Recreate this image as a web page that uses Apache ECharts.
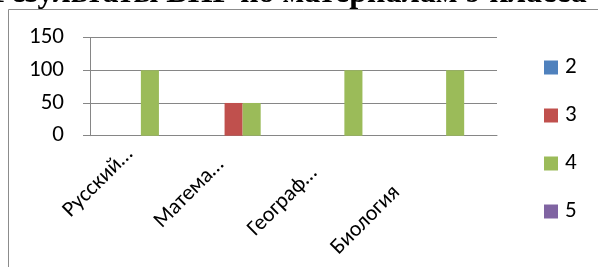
<!DOCTYPE html>
<html>
<head>
<meta charset="utf-8">
<script src="https://cdn.jsdelivr.net/npm/echarts@6/dist/echarts.min.js"></script>
<style>
  html, body { margin: 0; padding: 0; background: #fff; }
  #main { width: 598px; height: 267px; }
</style>
</head>
<body>
<div id="main"></div>
<script>
const titleText = 'Результаты ВПР по материалам 9 класса'
const subjects = ['Русский язык', 'Математика', 'География', 'Биология']
const subjectLabels = ['Русский…', 'Матема…', 'Географ…', 'Биология']
const grades = ['2', '3', '4', '5']
const grade2 = [0, 0, 0, 0]
const grade3 = [0, 50, 0, 0]
const grade4 = [100, 50, 100, 100]
const grade5 = [0, 0, 0, 0]
const yTicks = { min: 0, max: 150, step: 50 }

// Excel squeezes the rotated labels to the left; nudge each one
const labelPads = [[0, 16, 0, 0], [0, 31, 0, 0], [0, 43, 0, 0], [6, 70, 0, 0]]

const font = "Carlito, 'Liberation Sans', sans-serif"
const gridColor = '#868686'

const myChart = echarts.init(document.getElementById('main'))

const values = [grade2, grade3, grade4, grade5]
const option = {
  animation: false,
  color: ['#4F81BD', '#C0504D', '#9BBB59', '#8064A2'],
  textStyle: { fontFamily: font },
  graphic: [
    {
      type: 'rect',
      shape: { x: 8.5, y: 9.5, width: 700, height: 400 },
      style: { fill: 'none', stroke: '#8c8c8c', lineWidth: 1 }
    },
    {
      type: 'text',
      x: -8,
      y: 10,
      style: {
        text: titleText,
        font: "bold 32px 'Liberation Serif', serif",
        fill: '#000',
        verticalAlign: 'bottom'
      }
    }
  ],
  legend: {
    orient: 'vertical',
    left: 539,
    top: 51,
    itemWidth: 14,
    itemHeight: 14,
    itemGap: 25,
    icon: 'rect',
    data: grades,
    textStyle: { fontFamily: font, fontSize: 23, color: '#000', lineHeight: 23, padding: [0, 0, 0, 2] }
  },
  grid: { left: 90, top: 37.5, width: 407, height: 98.2 },
  xAxis: {
    type: 'category',
    data: subjects.map((s, i) => ({ value: s, textStyle: { padding: labelPads[i] } })),
    axisLine: { lineStyle: { color: gridColor, width: 1 } },
    axisTick: { length: 7, lineStyle: { color: gridColor } },
    axisLabel: {
      rotate: 45,
      margin: 4,
      interval: 0,
      fontSize: 22,
      color: '#000',
      fontFamily: font,
      formatter: (v, i) => subjectLabels[i]
    }
  },
  yAxis: {
    type: 'value',
    min: yTicks.min,
    max: yTicks.max,
    interval: yTicks.step,
    axisLine: { show: true, lineStyle: { color: gridColor } },
    axisTick: { show: true, length: 7, lineStyle: { color: gridColor } },
    splitLine: { lineStyle: { color: gridColor } },
    axisLabel: { margin: 26, fontSize: 23, color: '#000', fontFamily: font }
  },
  series: grades.map((g, k) => ({
    name: g,
    type: 'bar',
    data: values[k],
    barGap: '0%',
    barCategoryGap: '29%'
  }))
}

option && myChart.setOption(option)
</script>
</body>
</html>
